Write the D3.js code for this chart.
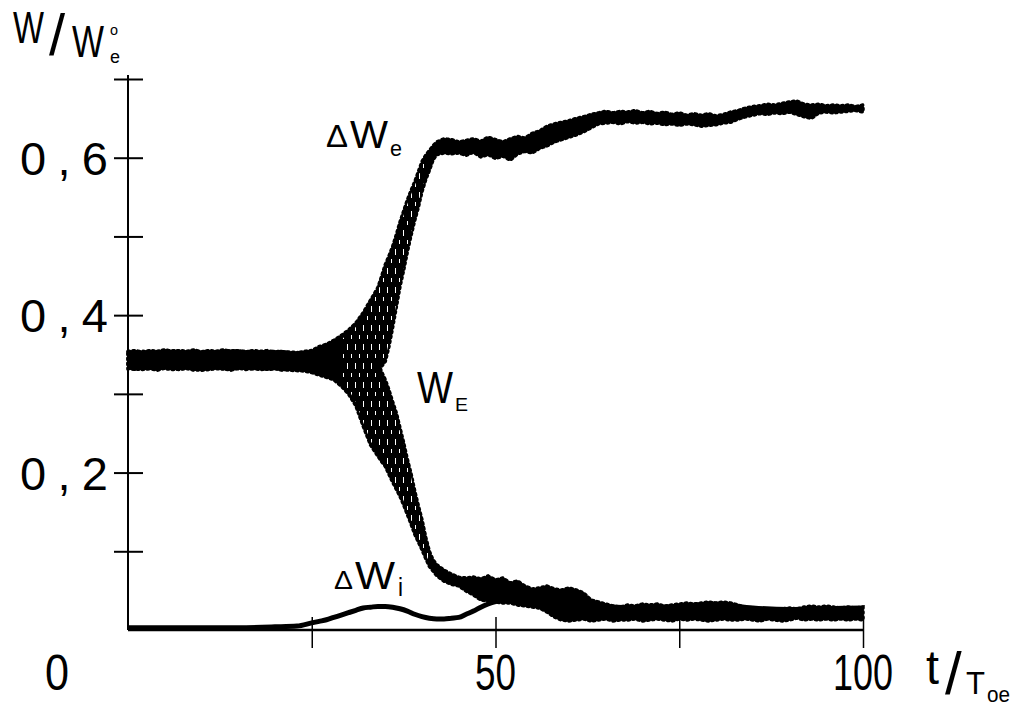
<!DOCTYPE html>
<html><head><meta charset="utf-8">
<script src="https://cdn.jsdelivr.net/npm/d3@7"></script>
<style>html,body{margin:0;padding:0;background:#fff;} svg{display:block;}</style>
</head><body><svg id="chart" width="1017" height="706"></svg>
<script>
// ---------------- data ----------------
// y axis ticks and labels
const yTickValues = [0.1, 0.2, 0.3, 0.4, 0.5, 0.6, 0.7];
const yLabelValues = [0.2, 0.4, 0.6];
const yTickLabels = ["0,2", "0,4", "0,6"];
// x axis ticks and labels
const xTickValues = [25, 50, 75, 100];
const xLabelValues = [0, 50, 100];
const xTickLabels = ["0", "50", "100"];

// ΔW_e envelope: [t, lower edge, upper edge]
const deltaWe = [
  [0,0.333,0.354],[1,0.331,0.355],[2,0.333,0.353],[3,0.332,0.355],[4,0.330,0.354],
  [5,0.333,0.356],[6,0.332,0.354],[7,0.331,0.355],[8,0.333,0.354],[9,0.330,0.356],
  [10,0.332,0.353],[11,0.331,0.355],[12,0.333,0.354],[13,0.332,0.356],[14,0.330,0.354],
  [15,0.333,0.355],[16,0.331,0.353],[17,0.332,0.355],[18,0.333,0.354],[19,0.331,0.355],
  [20,0.332,0.353],[21,0.330,0.354],[22,0.332,0.352],[23,0.331,0.352],[24,0.330,0.354],
  [25,0.330,0.355],[26,0.338,0.360],[27,0.338,0.363],[28,0.338,0.368],[29,0.338,0.374],
  [30,0.338,0.381],[31,0.338,0.390],[32,0.338,0.403],[33,0.338,0.419],[34,0.338,0.435],
  [34.5,0.335,0.449],[35,0.341,0.464],[35.5,0.360,0.475],[36,0.384,0.487],[36.5,0.410,0.502],
  [37,0.436,0.518],[37.5,0.457,0.532],[38,0.480,0.546],[38.5,0.501,0.558],[39,0.520,0.569],
  [39.5,0.537,0.582],[40,0.557,0.595],[40.5,0.572,0.603],[41,0.584,0.609],[41.5,0.597,0.615],
  [42,0.604,0.620],[43,0.606,0.624],[44,0.605,0.623],
  [45,0.606,0.620],[46,0.603,0.622],[47,0.607,0.624],[48,0.601,0.621],[49,0.604,0.626],
  [50,0.599,0.623],[51,0.602,0.620],[52,0.597,0.624],[53,0.605,0.627],[54,0.608,0.625],
  [55,0.606,0.631],[56,0.612,0.634],[57,0.615,0.640],[58,0.620,0.643],[59,0.623,0.645],
  [60,0.626,0.647],[61,0.629,0.650],[62,0.633,0.652],[63,0.638,0.655],[64,0.643,0.657],
  [65,0.644,0.659],[66,0.645,0.657],[67,0.643,0.659],[68,0.646,0.658],[69,0.644,0.660],
  [70,0.645,0.657],[71,0.643,0.659],[72,0.644,0.656],[73,0.642,0.658],[74,0.643,0.655],
  [75,0.641,0.657],[76,0.643,0.654],[77,0.642,0.656],[78,0.640,0.654],[79,0.641,0.656],
  [80,0.642,0.653],[81,0.644,0.655],[82,0.645,0.658],[83,0.649,0.660],[84,0.652,0.663],
  [85,0.654,0.665],[86,0.656,0.666],[87,0.655,0.668],[88,0.657,0.667],[89,0.656,0.669],
  [90,0.658,0.671],[91,0.655,0.672],[92,0.652,0.668],[93,0.650,0.667],[94,0.657,0.668],
  [95,0.658,0.666],[96,0.657,0.667],[97,0.658,0.666],[98,0.659,0.667],[99,0.660,0.665],
  [100,0.658,0.667]
];

// W_E envelope: [t, lower edge, upper edge]
const wE = [
  [0,0.332,0.352],[2,0.331,0.354],[4,0.333,0.353],[6,0.331,0.355],[8,0.332,0.353],
  [10,0.330,0.354],[12,0.332,0.353],[14,0.331,0.355],[16,0.333,0.354],[18,0.331,0.353],
  [20,0.332,0.354],[22,0.330,0.353],[24,0.329,0.352],
  [25,0.327,0.345],[26,0.324,0.345],[27,0.321,0.345],[28,0.318,0.345],[29,0.310,0.345],
  [30,0.300,0.345],[31,0.285,0.345],[32,0.259,0.345],[33,0.235,0.345],[34,0.221,0.340],
  [34.5,0.214,0.328],[35,0.208,0.318],[35.5,0.198,0.305],[36,0.188,0.290],[36.5,0.179,0.276],
  [37,0.170,0.257],[37.5,0.159,0.238],[38,0.147,0.217],[38.5,0.135,0.199],[39,0.122,0.177],
  [39.5,0.112,0.158],[40,0.102,0.140],[40.5,0.091,0.118],[41,0.081,0.100],[41.5,0.075,0.089],
  [42,0.069,0.083],[43,0.062,0.076],[44,0.058,0.071],[45,0.056,0.067],
  [46,0.0495,0.0661],[47,0.0445,0.0673],[48,0.0381,0.0648],[49,0.0368,0.0686],[50,0.0356,0.0635],
  [51,0.0343,0.0661],[52,0.0343,0.0597],[53,0.0318,0.0623],[54,0.0305,0.0559],[55,0.0292,0.0521],
  [56,0.0279,0.0534],[57,0.0229,0.0559],[58,0.0165,0.0521],[59,0.0127,0.0508],[60,0.0114,0.0534],
  [61,0.0127,0.0508],[62,0.0140,0.0470],[63,0.0114,0.0381],[64,0.0127,0.0356],[65,0.0140,0.0330],
  [66,0.0114,0.0305],[67,0.0127,0.0292],[68,0.0127,0.0318],[69,0.0140,0.0305],[70,0.0114,0.0330],
  [71,0.0127,0.0318],[72,0.0140,0.0330],[73,0.0127,0.0305],[74,0.0114,0.0318],[75,0.0140,0.0330],
  [76,0.0127,0.0343],[77,0.0140,0.0330],[78,0.0127,0.0343],[79,0.0114,0.0356],[80,0.0127,0.0343],
  [81,0.0140,0.0356],[82,0.0127,0.0343],[83,0.0127,0.0318],[84,0.0140,0.0279],[85,0.0127,0.0267],
  [86,0.0114,0.0254],[87,0.0140,0.0267],[88,0.0127,0.0254],[89,0.0114,0.0267],[90,0.0127,0.0279],
  [91,0.0152,0.0267],[92,0.0127,0.0292],[93,0.0140,0.0305],[94,0.0127,0.0292],[95,0.0140,0.0305],
  [96,0.0127,0.0292],[97,0.0140,0.0279],[98,0.0127,0.0292],[99,0.0140,0.0279],[100,0.0127,0.0292]
];

// ΔW_i curve: [t, value]
const deltaWi = [
  [0,0.003],[5,0.003],[10,0.003],[15,0.003],[20,0.004],[23,0.005],[25,0.009],[26,0.011],
  [27,0.013],[28,0.016],[29,0.019],[30,0.022],[31,0.025],[32,0.028],[33,0.029],[34,0.030],
  [35,0.030],[36,0.029],[37,0.027],[38,0.024],[39,0.020],[40,0.017],[41,0.015],[42,0.014],
  [43,0.014],[44,0.015],[45,0.016],[46,0.020],[47,0.024],[48,0.029],[49,0.033],[50,0.036],
  [51,0.038],[52,0.039],[55,0.038],[60,0.034],[65,0.030],[70,0.028],[75,0.030],[80,0.033],
  [85,0.028],[90,0.026],[95,0.027],[100,0.028]
];

// ---------------- chart ----------------
const svg = d3.select("#chart");
const FONT = "'Liberation Sans', Arial, sans-serif";
const x = d3.scaleLinear().domain([0, 100]).range([128, 863]);
const y = d3.scaleLinear().domain([0, 0.7]).range([630, 79]);

// sparse hatch pattern for the rapidly oscillating region
const defs = svg.append("defs");
const pat = defs.append("pattern").attr("id", "hatch").attr("patternUnits", "userSpaceOnUse")
  .attr("width", 8).attr("height", 19);
pat.append("rect").attr("x", 3).attr("y", 2).attr("width", 1).attr("height", 6).attr("fill", "#fff");
pat.append("rect").attr("x", 7).attr("y", 12).attr("width", 1).attr("height", 4).attr("fill", "#fff");

const area = d3.area().x(d => x(d[0])).y0(d => y(d[1])).y1(d => y(d[2]));

[deltaWe, wE].forEach(series => {
  svg.append("path").datum(series).attr("d", area).attr("fill", "#000")
    .attr("stroke", "#000").attr("stroke-width", 1.5).attr("stroke-linejoin", "round");
  // fuzzy, noisy edge of the recorded trace
  svg.append("path").datum(series).attr("d", area).attr("fill", "none")
    .attr("stroke", "#000").attr("stroke-width", 3.5).attr("stroke-linecap", "round")
    .attr("stroke-dasharray", "1.5 3.5");
});

// hatching inside the oscillating part
const inner = d3.area().x(d => x(d[0])).y0(d => y(d[1]) - 4).y1(d => y(d[2]) + 4);
svg.append("path").datum(deltaWe.filter(d => d[0] >= 29 && d[0] <= 40.5)).attr("d", inner).attr("fill", "url(#hatch)");
svg.append("path").datum(wE.filter(d => d[0] >= 29 && d[0] <= 41)).attr("d", inner).attr("fill", "url(#hatch)");

const line = d3.line().x(d => x(d[0])).y(d => y(d[1])).curve(d3.curveMonotoneX);
svg.append("path").datum(deltaWi).attr("d", line).attr("fill", "none")
  .attr("stroke", "#000").attr("stroke-width", 5);

// axes
const yAxis = svg.append("g").attr("transform", `translate(${x(0)},0)`)
  .call(d3.axisLeft(y).tickValues(yTickValues).tickFormat("").tickSizeOuter(0));
yAxis.select(".domain").attr("d", `M0,${y(0)}V${y(0.7) - 4}`).attr("stroke-width", 2);
yAxis.selectAll(".tick line").attr("x1", -14).attr("x2", 15).attr("stroke-width", 2);

const xAxis = svg.append("g").attr("transform", `translate(0,${y(0)})`)
  .call(d3.axisBottom(x).tickValues(xTickValues).tickFormat("").tickSizeOuter(0));
xAxis.select(".domain").attr("d", `M${x(0)},0H${x(100)}`).attr("stroke-width", 2.5);
xAxis.selectAll(".tick line").attr("y1", -13).attr("y2", 18).attr("stroke-width", 1.5);

// tick labels
svg.selectAll("text.ylab").data(yLabelValues).join("text").attr("class", "ylab")
  .attr("x", 20).attr("y", d => y(d) + 17)
  .attr("font-family", FONT).attr("font-size", 47)
  .attr("textLength", 88).attr("lengthAdjust", "spacing")
  .text((d, i) => yTickLabels[i]);

const xLabelWidths = [24, 41, 60];
svg.selectAll("text.xlab").data(xLabelValues).join("text").attr("class", "xlab")
  .attr("x", (d, i) => (i === 0 ? x(d) - 71 : x(d)) - xLabelWidths[i] / 2)
  .attr("y", 690)
  .attr("font-family", FONT).attr("font-size", 50)
  .attr("textLength", (d, i) => xLabelWidths[i]).attr("lengthAdjust", "spacingAndGlyphs")
  .text((d, i) => xTickLabels[i]);

// generic text helper
function txt(s, px, py, size, w) {
  const t = svg.append("text").attr("x", px).attr("y", py)
    .attr("font-family", FONT).attr("font-size", size).text(s);
  if (w) t.attr("textLength", w).attr("lengthAdjust", "spacingAndGlyphs");
  return t;
}
// y axis title W/W°e
txt("W", 13, 43, 44, 31);
txt("/", 49, 55, 58);
txt("W", 72, 57, 44, 32);
txt("o", 110, 35, 15, 8);
txt("e", 110, 63, 18, 10);
// x axis title t/Toe
txt("t", 926, 684, 48, 13);
txt("/", 945, 694, 60);
txt("T", 966, 694, 31, 19);
txt("oe", 987, 702, 22, 23);
// curve labels
txt("\u0394", 326, 147, 32, 22);
txt("W", 350, 148, 38, 38);
txt("e", 390, 156, 22, 12);
txt("W", 417, 403, 44, 36);
txt("E", 455, 411, 18, 13);
txt("\u0394", 334, 589, 26, 19);
txt("W", 355, 589, 38, 40);
txt("i", 398, 596, 25, 5);
</script>
</body></html>
